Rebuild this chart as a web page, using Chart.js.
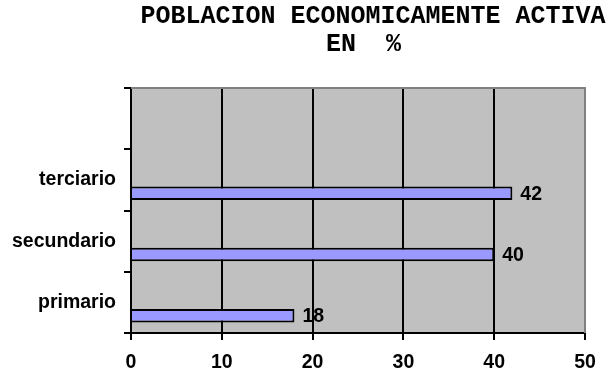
<!DOCTYPE HTML>
<html>
  <head>
    <script src="https://cdn.jsdelivr.net/npm/chart.js"></script>
    <style>
      body { margin: 0; background: #fff; }
    </style>
  </head>
  <body>
    <div style="position: relative; width: 609px; height: 373px;">
      <canvas id="pea-chart"></canvas>
    </div>

    <script>
      // data (top slot is an empty category, as in the original sheet)
      const categories = ['', 'terciario', 'secundario', 'primario'];
      const pea_values = [null, 42, 40, 18];
      const empty_a = [null, null, null, null];
      const empty_b = [null, null, null, null];
      const x_ticks = [0, 10, 20, 30, 40, 50];
      const title_lines = ['POBLACION ECONOMICAMENTE ACTIVA', 'EN  % '];

      Chart.defaults.font.family = '"Liberation Sans", Arial, sans-serif';
      Chart.defaults.font.size = 19.5;
      Chart.defaults.font.weight = 'bold';
      Chart.defaults.color = '#000';

      // grey plot area with grey top/right border, like the excel chart
      const plot_area = {
        id: 'plot_area',
        beforeDraw: function(chart) {
          const ctx = chart.ctx, a = chart.chartArea;
          ctx.save();
          ctx.fillStyle = '#c0c0c0';
          ctx.fillRect(a.left, a.top, a.right - a.left, a.bottom - a.top);
          ctx.restore();
        },
        beforeDatasetsDraw: function(chart) {
          const ctx = chart.ctx, a = chart.chartArea;
          ctx.save();
          ctx.strokeStyle = '#808080';
          ctx.lineWidth = 2;
          ctx.beginPath();
          ctx.moveTo(a.left, a.top);
          ctx.lineTo(a.right, a.top);
          ctx.lineTo(a.right, a.bottom);
          ctx.stroke();
          ctx.restore();
        }
      };

      // value labels at the end of each bar
      const bar_labels = {
        id: 'bar_labels',
        afterDatasetsDraw: function(chart) {
          const ctx = chart.ctx;
          ctx.save();
          ctx.font = 'bold 19.5px "Liberation Sans", Arial, sans-serif';
          ctx.fillStyle = '#000';
          ctx.textAlign = 'left';
          ctx.textBaseline = 'middle';
          chart.data.datasets.forEach(function(ds, i) {
            chart.getDatasetMeta(i).data.forEach(function(bar, j) {
              if (ds.data[j] == null) return;
              ctx.fillText(String(ds.data[j]), bar.x + 8, bar.y + 1);
            });
          });
          ctx.restore();
        }
      };

      // title in courier-like mono font
      const mono_title = {
        id: 'mono_title',
        afterDraw: function(chart) {
          const ctx = chart.ctx;
          ctx.save();
          ctx.font = 'bold 25px "Liberation Mono", "Courier New", monospace';
          ctx.fillStyle = '#000';
          ctx.textAlign = 'center';
          ctx.fillText(title_lines[0], 373, 23);
          ctx.fillText(title_lines[1], 371, 51);
          ctx.restore();
        }
      };

      const bar_style = {
        backgroundColor: '#9999ff',
        borderColor: '#000',
        borderWidth: 2,
        categoryPercentage: 0.66,
        barPercentage: 1
      };

      const pea_context = document.getElementById('pea-chart');
      pea_chart = new Chart(pea_context, {
        type: 'bar',
        data: {
          labels: categories,
          datasets: [
            Object.assign({ label: 'a', data: empty_a }, bar_style),
            Object.assign({ label: 'b', data: empty_b }, bar_style),
            Object.assign({ label: 'PEA', data: pea_values }, bar_style)
          ]
        },
        plugins: [plot_area, bar_labels, mono_title],
        options: {
          indexAxis: 'y',
          responsive: true,
          maintainAspectRatio: false,
          animation: false,
          layout: { padding: { top: 88, right: 24, bottom: 0, left: 12 } },
          plugins: {
            legend: { display: false },
            tooltip: { enabled: false },
            title: { display: false }
          },
          scales: {
            x: {
              type: 'linear',
              min: x_ticks[0],
              max: x_ticks[x_ticks.length - 1],
              afterBuildTicks: function(axis) {
                axis.ticks = x_ticks.map(function(v) { return { value: v }; });
              },
              afterFit: function(axis) { axis.height = 40; },
              grid: {
                color: function(c) { return c.tick && c.tick.value === 50 ? '#808080' : '#000'; },
                tickColor: '#000',
                lineWidth: 2,
                tickLength: 7
              },
              border: { color: '#000', width: 2 },
              ticks: { padding: 11 }
            },
            y: {
              afterFit: function(axis) { axis.width = 119; },
              grid: {
                drawOnChartArea: false,
                offset: true,
                tickColor: '#000',
                lineWidth: 2,
                tickLength: 7
              },
              border: { color: '#000', width: 2 },
              ticks: { padding: 8 }
            }
          }
        }
      });
    </script>
  </body>
</html>
